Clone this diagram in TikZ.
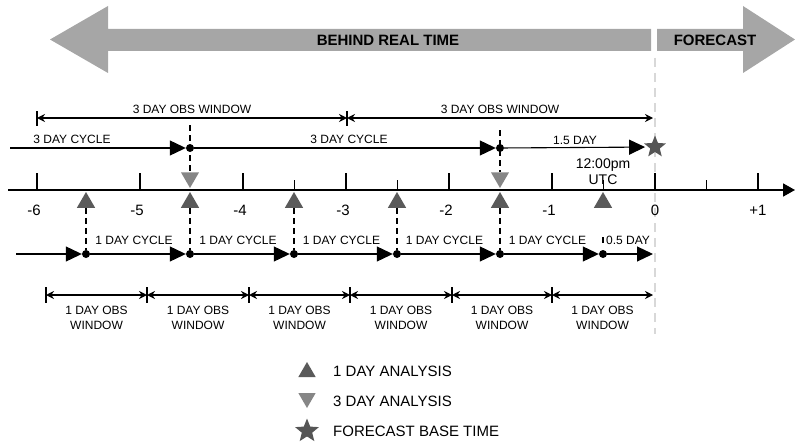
\documentclass[tikz,border=0pt]{standalone}
\usepackage{fontspec}
\setmainfont{Liberation Sans}
\usepackage{tikz}
\usetikzlibrary{positioning, arrows.meta, shapes.geometric, calc}

\definecolor{bargray}{HTML}{A6A6A6}
\definecolor{upgray}{HTML}{5A5A5A}
\definecolor{downgray}{HTML}{868686}
\definecolor{stargray}{HTML}{555555}
\definecolor{nowgray}{HTML}{D8D8D8}

\begin{document}
\begin{tikzpicture}[x=1pt, y=-1pt, font=\fontsize{12}{15}\selectfont]
	\tikzstyle{lbl}=[inner sep=0pt, anchor=base]
	\tikzstyle{big lbl}=[lbl, font=\fontsize{15}{18}\selectfont\bfseries]
	\tikzstyle{tick lbl}=[lbl, font=\fontsize{15}{18}\selectfont]
	\tikzstyle{utc lbl}=[lbl, font=\fontsize{14}{16}\selectfont]
	\tikzstyle{key lbl}=[lbl, anchor=base west, font=\fontsize{15}{18}\selectfont]
	\tikzstyle{win lbl}=[inner sep=0pt, anchor=north, align=center]
	\tikzstyle{dot}=[circle, fill=black, minimum size=8pt, inner sep=0pt]
	\tikzstyle{up mark}=[regular polygon, regular polygon sides=3, fill=upgray, minimum size=21pt, inner sep=0pt]
	\tikzstyle{down mark}=[up mark, fill=downgray, shape border rotate=180]
	\tikzstyle{star mark}=[star, star points=5, star point ratio=2.3, fill=stargray, minimum size=23pt, inner sep=0pt]
	\tikzstyle{cycle arrow}=[-{Triangle[length=16pt, width=15pt]}, line width=1.1pt]
	\tikzstyle{obs arrow}=[{Stealth[length=8pt, width=8pt]}-{Stealth[length=8pt, width=8pt]}, line width=1.4pt]
	\tikzstyle{obs bar}=[line width=1.2pt]
	\tikzstyle{guide}=[dash pattern=on 6pt off 4pt, line width=1.1pt]

	\useasboundingbox (0,0) rectangle (795,444);

	% Time bars
	\fill[bargray] (50,39.5) -- (108,6) -- (108,29) -- (651,29) -- (651,51) -- (108,51) -- (108,73) -- cycle;
	\fill[bargray] (657,29) -- (743,29) -- (743,6) -- (795,39.5) -- (743,73) -- (743,51) -- (657,51) -- cycle;
	\node[big lbl] (behind) at (388,46) {BEHIND REAL TIME};
	\node[big lbl] (fcst) at (715,46) {FORECAST};

	% Now line
	\coordinate (now-top) at (655,58);
	\coordinate (now-bot) at (655,334);
	\draw[nowgray, line width=2pt, dash pattern=on 9pt off 6pt] (now-top) -- (now-bot);

	% Time axis
	\coordinate (ax-start) at (8,190);
	\coordinate (ax-end) at (795,190);
	\draw[line width=1.8pt, -{Triangle[length=12pt, width=13pt]}] (ax-start) -- (ax-end);
	\foreach \d in {-6,...,1}
	\draw[line width=1.5pt] ({655+103*\d},173) -- ({655+103*\d},190);
	\foreach \d in {-3.5,-2.5,-0.5,0.5}
	\draw[line width=1.5pt] ({655+103*\d},180) -- ({655+103*\d},190);
	\foreach \d in {-6,...,-1}
	\node[tick lbl] (tl\d) at ({652+103*\d},215) {\d};
	\node[tick lbl] (tl0) at (655,215) {0};
	\node[tick lbl] (tl1) at (758,215) {+1};

	% Analyses
	\foreach \x [count=\i] in {86,190,294,397,500,603}
	\node[up mark] (A1-\i) at (\x,202.5) {};
	\node[down mark] (D-1) at (190,177.5) {};
	\node[down mark] (D-2) at (500,177.5) {};

	% 3 day cycle
	\coordinate (c3-start) at (10,148);
	\node[dot] (C3-1) at (190,148) {};
	\node[dot] (C3-2) at (500,148) {};
	\node[star mark] (fbt) at (655,147) {};
	\coordinate (g-1) at (190,125);
	\coordinate (g-2) at (500,130);
	\draw[guide] (g-1) -- (D-1);
	\draw[guide] (g-2) -- (D-2);
	\draw[cycle arrow] (c3-start) -- (C3-1);
	\draw[cycle arrow] (C3-1) -- (C3-2);
	\draw[cycle arrow, shorten >=3pt] (C3-2) -- (fbt);
	\node[lbl] at (72,143) {3 DAY CYCLE};
	\node[lbl] at (349,143) {3 DAY CYCLE};
	\node[lbl] at (575,144) {1.5 DAY};
	\node[utc lbl] at (603,168) {12:00pm};
	\node[utc lbl] at (603,184) {UTC};

	% 3 day obs windows
	\coordinate (W3-1) at (37,118);
	\coordinate (W3-2) at (347,118);
	\coordinate (W3-3) at (653,118);
	\draw[obs arrow] (W3-1) -- (W3-2);
	\draw[obs arrow] (W3-2) -- (W3-3);
	\foreach \i in {1,2}
	\draw[obs bar] ($(W3-\i)+(0,-7)$) -- ($(W3-\i)+(0,8)$);
	\node[lbl] at (192,113) {3 DAY OBS WINDOW};
	\node[lbl] at (500,113) {3 DAY OBS WINDOW};

	% 1 day cycle
	\coordinate (c1-start) at (16,254);
	\coordinate (c1-end) at (653,254);
	\foreach \x [count=\i] in {86,190,294,397,500,603}
	\node[dot] (C1-\i) at (\x,254) {};
	\foreach \i in {1,...,5}
	\draw[guide] (A1-\i) -- (C1-\i);
	\draw[guide] ($(C1-6)+(0,-17)$) -- ($(C1-6)+(0,-11)$);
	\draw[cycle arrow] (c1-start) -- (C1-1);
	\foreach \a/\b in {1/2,2/3,3/4,4/5,5/6}
	\draw[cycle arrow] (C1-\a) -- (C1-\b);
	\draw[cycle arrow] (C1-6) -- (c1-end);
	\foreach \x in {134,238,341.5,444.5,547.5}
	\node[lbl] at (\x,244) {1 DAY CYCLE};
	\node[lbl] at (628,244) {0.5 DAY};

	% 1 day obs windows
	\foreach \x [count=\i] in {46,147,249,350,452,552,653}
	\coordinate (W1-\i) at (\x,295);
	\foreach \a/\b in {1/2,2/3,3/4,4/5,5/6,6/7}
	\draw[obs arrow] (W1-\a) -- (W1-\b);
	\foreach \i in {1,...,6}
	\draw[obs bar] ($(W1-\i)+(0,-8)$) -- ($(W1-\i)+(0,8)$);
	\foreach \a/\b in {1/2,2/3,3/4,4/5,5/6,6/7}
	\node[win lbl] at ($(W1-\a)!0.5!(W1-\b)+(0,11)$) {1 DAY OBS\\WINDOW};

	% Key
	\node[up mark, minimum size=20pt] (k1) at (307,372) {};
	\node[down mark, minimum size=20pt] (k2) at (307,398) {};
	\node[star mark, minimum size=25pt] (k3) at (307,431) {};
	\node[key lbl] at (333,376) {1 DAY ANALYSIS};
	\node[key lbl] at (333,406.5) {3 DAY ANALYSIS};
	\node[key lbl] at (333,436) {FORECAST BASE TIME};
\end{tikzpicture}
\end{document}
